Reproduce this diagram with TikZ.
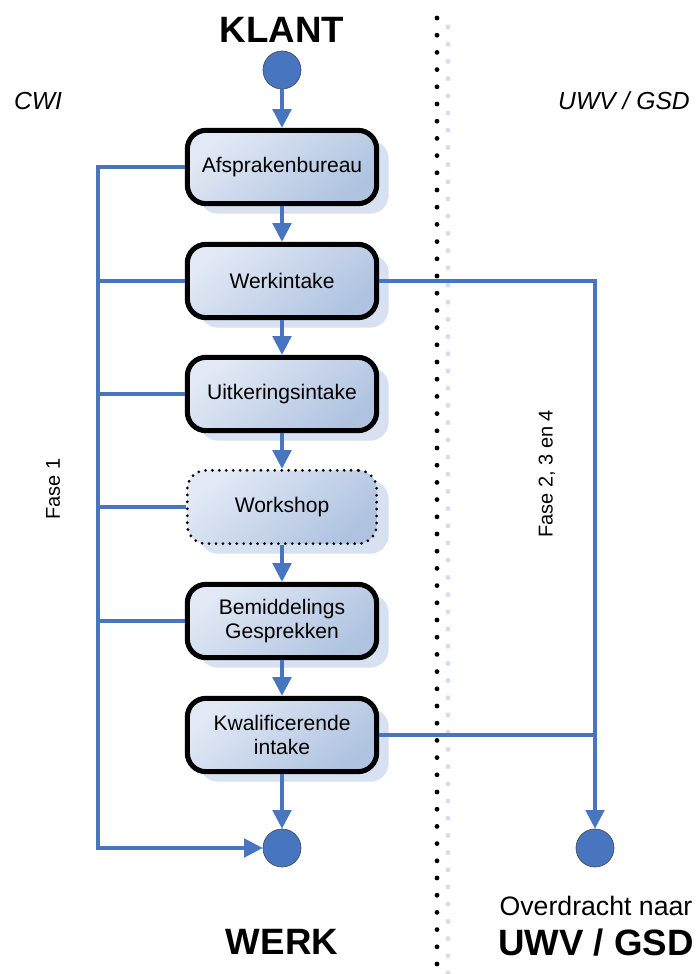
\documentclass[tikz,border=0pt]{standalone}
\usepackage{fontspec}
\setmainfont{Liberation Sans}
\usetikzlibrary{arrows.meta,shadows}
\definecolor{flowblue}{HTML}{4775C0}
\definecolor{boxlight}{HTML}{E2E9F5}
\definecolor{boxdark}{HTML}{AFC3E0}
\definecolor{shadowblue}{HTML}{D7E1F1}
\definecolor{dotblue}{HTML}{D5DEF0}
\tikzset{
  x=0.75pt, y=-0.75pt,
  stepbox/.style={rectangle, rounded corners=14pt, minimum width=142pt, minimum height=55pt,
    align=center, font=\fontsize{15.8}{18.5}\selectfont, line width=3.8pt, draw=black,
    top color=boxlight, bottom color=boxdark, shading angle=40,
    general shadow={shadow xshift=9pt, shadow yshift=-7.5pt, fill=shadowblue, draw=none}},
  dotbox/.style={stepbox, line width=2.3pt, dash pattern=on 0pt off 5.2pt, line cap=round},
  startend/.style={circle, fill=flowblue, draw=black!70, line width=0.5pt, minimum size=28.5pt, inner sep=0pt},
  conn/.style={draw=flowblue, line width=2.4pt},
  arr/.style={conn, -{Triangle[length=14pt,width=14pt]}},
  bigtitle/.style={font=\fontsize{27.5}{30}\selectfont\bfseries},
  sidelabel/.style={font=\fontsize{18.5}{22}\selectfont\itshape},
  faselabel/.style={font=\fontsize{15}{18}\selectfont, rotate=90, inner sep=0pt},
}
\begin{document}
\begin{tikzpicture}
\useasboundingbox (0,0) rectangle (699,974);
\fill[white] (0,0) rectangle (699,974);

% divider
\coordinate (dtop) at (437,18);
\coordinate (dbot) at (437,974);
\coordinate (ltop) at (448,27);
\coordinate (lbot) at (448,974);
\draw[dotblue, line width=3.8pt, line cap=round, dash pattern=on 0pt off 12.9pt] (ltop) -- (lbot);
\draw[black, line width=3.6pt, line cap=round, dash pattern=on 0pt off 12.9pt] (dtop) -- (dbot);

% titles
\node[bigtitle] (klant) at (282,30) {KLANT};
\node[bigtitle] (werk) at (282,942) {WERK};
\node[font=\fontsize{20}{24}\selectfont] (overdr) at (596,906) {Overdracht naar};
\node[bigtitle] (uwvb) at (596,943) {UWV / GSD};
\node[sidelabel] (cwi) at (38,101) {CWI};
\node[sidelabel] (uwvi) at (624,101) {UWV / GSD};
\node[faselabel, anchor=west] (fase1) at (53,520) {Fase 1};
\node[faselabel, anchor=west] (fase2) at (547,538) {Fase 2, 3 en 4};

% start / end
\node[startend] (start) at (282,70) {};
\node[startend] (endw) at (282,848) {};
\node[startend] (endu) at (595,848) {};

% boxes
\node[stepbox] (afs) at (282,167) {Afsprakenbureau};
\node[stepbox] (wi) at (282,281) {Werkintake};
\node[stepbox] (ui) at (282,394) {Uitkeringsintake};
\node[dotbox] (ws) at (282,507) {Workshop};
\node[stepbox] (bg) at (282,621) {Bemiddelings\\Gesprekken};
\node[stepbox] (kw) at (282,735) {Kwalificerende\\intake};

% main flow
\draw[arr] (start) -- (afs);
\draw[arr] (afs) -- (wi);
\draw[arr] (wi) -- (ui);
\draw[arr] (ui) -- (ws);
\draw[arr] (ws) -- (bg);
\draw[arr] (bg) -- (kw);
\draw[arr] (kw) -- (endw);

% left loop
\coordinate (lt) at (98,167);
\coordinate (lb) at (98,848);
\draw[arr] (afs.west) -- (lt) -- (lb) -- (endw.west);
\draw[conn] (wi.west) -- (wi.west -| lt);
\draw[conn] (ui.west) -- (ui.west -| lt);
\draw[conn] (ws.west) -- (ws.west -| lt);
\draw[conn] (bg.west) -- (bg.west -| lt);

% right path
\coordinate (rt) at (595,281);
\draw[arr] (wi.east) -- (rt) -- (endu.north);
\draw[conn] (kw.east) -- (kw.east -| rt);
\end{tikzpicture}
\end{document}
